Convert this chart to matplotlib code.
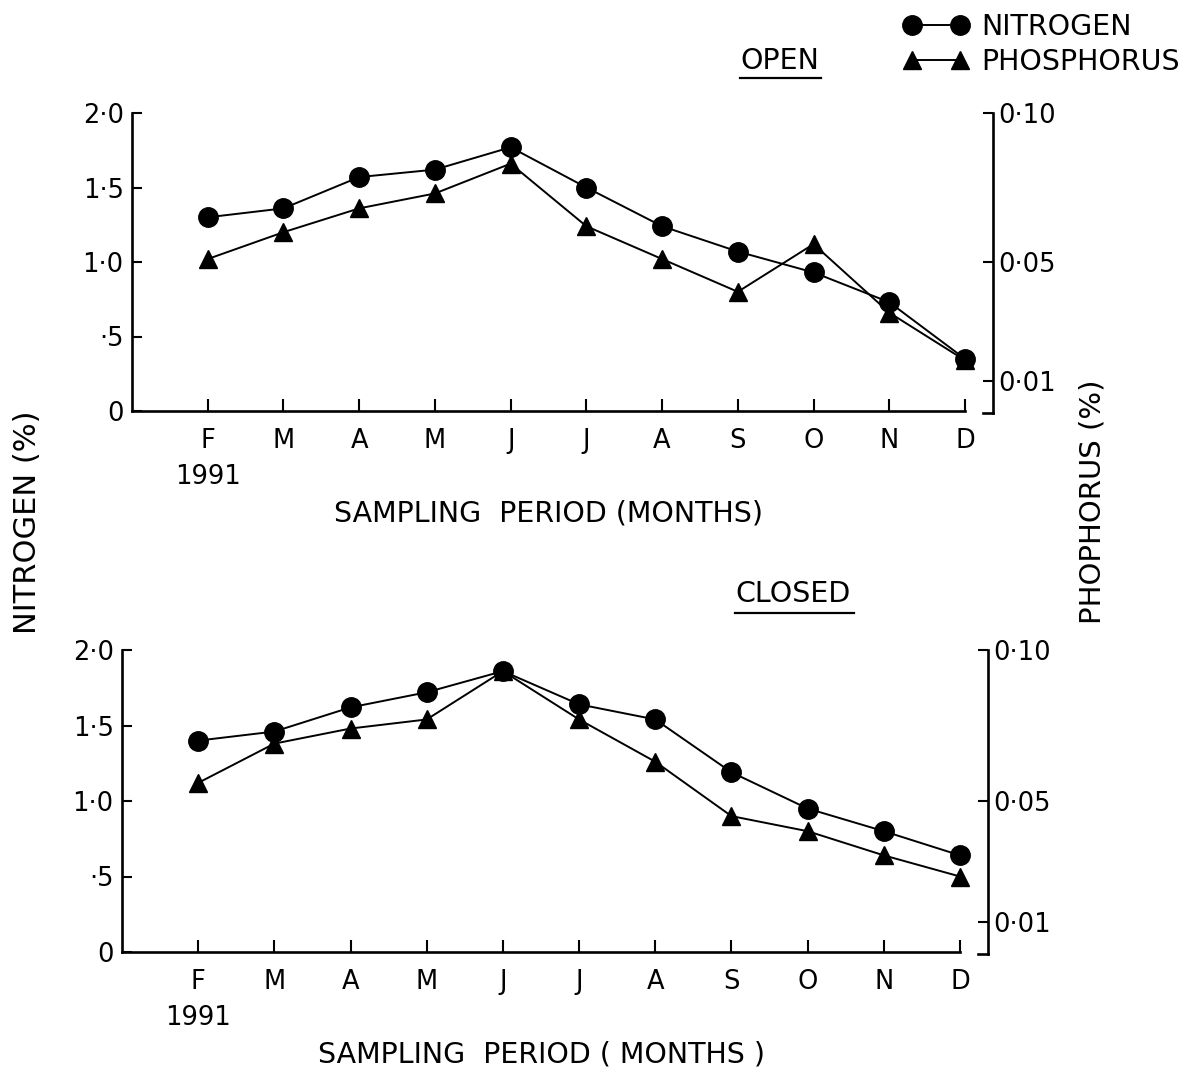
import matplotlib
matplotlib.use("Agg")
import matplotlib.pyplot as plt
from matplotlib.lines import Line2D
import matplotlib.transforms as mtransforms

months = ["F", "M", "A", "M", "J", "J", "A", "S", "O", "N", "D"]
year_label = "1991"

open_nitrogen = [1.30, 1.36, 1.57, 1.62, 1.77, 1.50, 1.24, 1.07, 0.93, 0.73, 0.35]
open_phosphorus = [0.051, 0.060, 0.068, 0.073, 0.083, 0.062, 0.051, 0.040, 0.056, 0.033, 0.017]

closed_nitrogen = [1.40, 1.46, 1.62, 1.72, 1.86, 1.64, 1.54, 1.19, 0.95, 0.80, 0.64]
closed_phosphorus = [0.056, 0.069, 0.074, 0.077, 0.093, 0.077, 0.063, 0.045, 0.040, 0.032, 0.025]

n_ticks = [0, 0.5, 1.0, 1.5, 2.0]
n_ticklabels = ["0", "·5", "1·0", "1·5", "2·0"]
p_ticks = [0.01, 0.05, 0.10]
p_ticklabels = ["0·01", "0·05", "0·10"]

W, H = 1197, 1082
fig = plt.figure(figsize=(W / 100, H / 100), dpi=100)
plt.rcParams['font.family'] = ['DejaVu Sans']
FS = 18.5      # tick labels
FL = 20.5      # axis labels / titles / legend
LW_SP = 1.9
MS_O = 14
MS_T = 13


def px(x0, y0, x1, y1):
    return [x0 / W, 1 - y1 / H, (x1 - x0) / W, (y1 - y0) / H]


def panel(rect, nit, pho, xlabel, title, title_xy, ul):
    ax = fig.add_axes(rect)
    x = list(range(len(months)))
    ax.plot(x, nit, color="black", lw=1.4, marker="o", ms=MS_O, clip_on=False, zorder=3)
    ax2 = ax.twinx()
    ax2.plot(x, pho, color="black", lw=1.4, marker="^", ms=MS_T, clip_on=False, zorder=3)
    ax.set_xlim(-1, 10)
    ax.set_ylim(0, 2.0)
    ax2.set_ylim(0, 0.10)
    for s in ["top", "right"]:
        ax.spines[s].set_visible(False)
    for s in ["top", "left", "bottom"]:
        ax2.spines[s].set_visible(False)
    for s in ["left", "bottom"]:
        ax.spines[s].set_linewidth(LW_SP)
    ax2.spines["right"].set_linewidth(LW_SP)
    axw = rect[2] * W
    off = 28 / axw
    ax2.spines["right"].set_position(("axes", 1 + off))
    ax2.spines["right"].set_bounds(-0.0008, 0.1)
    ax.set_yticks(n_ticks)
    ax.set_yticklabels(n_ticklabels)
    ax.set_xticks(x)
    labels = list(months)
    labels[0] = months[0] + "\n" + year_label
    ax.set_xticklabels(labels, linespacing=1.5)
    ax.tick_params(axis="y", direction="in", length=7, width=1.5, labelsize=FS, pad=6)
    ax.tick_params(axis="x", direction="in", length=9, width=1.5, labelsize=FS, pad=12)
    ax2.set_yticks(p_ticks)
    ax2.set_yticklabels(p_ticklabels)
    ax2.tick_params(axis="y", direction="in", length=7, width=1.5, labelsize=FS, pad=4)
    ax.set_xlabel(xlabel, fontsize=FL, labelpad=7)
    # foot of right spine
    tr = mtransforms.blended_transform_factory(ax.transAxes, ax2.transData)
    ax2.plot([1 + off - 10 / axw, 1 + off], [-0.0008, -0.0008], color="black",
             lw=LW_SP, transform=tr, clip_on=False)
    # title with underline
    tx, ty = title_xy
    fig.text(tx / W, 1 - ty / H, title, fontsize=FL, ha="center", va="center")
    fig.add_artist(Line2D([ul[0] / W, ul[1] / W], [1 - ul[2] / H, 1 - ul[2] / H],
                          color="black", lw=1.6))
    return ax, ax2


ax_o, ax_o2 = panel(px(132, 113, 965, 411), open_nitrogen, open_phosphorus,
                    "SAMPLING  PERIOD (MONTHS)", "OPEN", (780, 61), (740, 821, 78))
ax_c, ax_c2 = panel(px(122, 650, 960, 952), closed_nitrogen, closed_phosphorus,
                    "SAMPLING  PERIOD ( MONTHS )", "CLOSED", (793, 594), (735, 854, 613))

fig.text(28 / W, 1 - 522 / H, "NITROGEN (%)", rotation=90, fontsize=22, ha="center", va="center")
fig.text(1092 / W, 1 - 502 / H, "PHOPHORUS (%)", rotation=90, fontsize=21, ha="center", va="center")

h_n = Line2D([], [], color="black", lw=1.4, marker="o", ms=MS_O)
h_p = Line2D([], [], color="black", lw=1.4, marker="^", ms=MS_T)
fs_px = FL * 100 / 72
fig.legend([h_n, h_p], ["NITROGEN", "PHOSPHORUS"], loc="upper left",
           bbox_to_anchor=(903 / W, 1 - 13 / H), frameon=False, fontsize=FL,
           numpoints=2, handlelength=48 / fs_px + 0.6, handletextpad=0.47,
           labelspacing=0.25, borderaxespad=0, borderpad=0)

fig.savefig("out.png", dpi=100)
